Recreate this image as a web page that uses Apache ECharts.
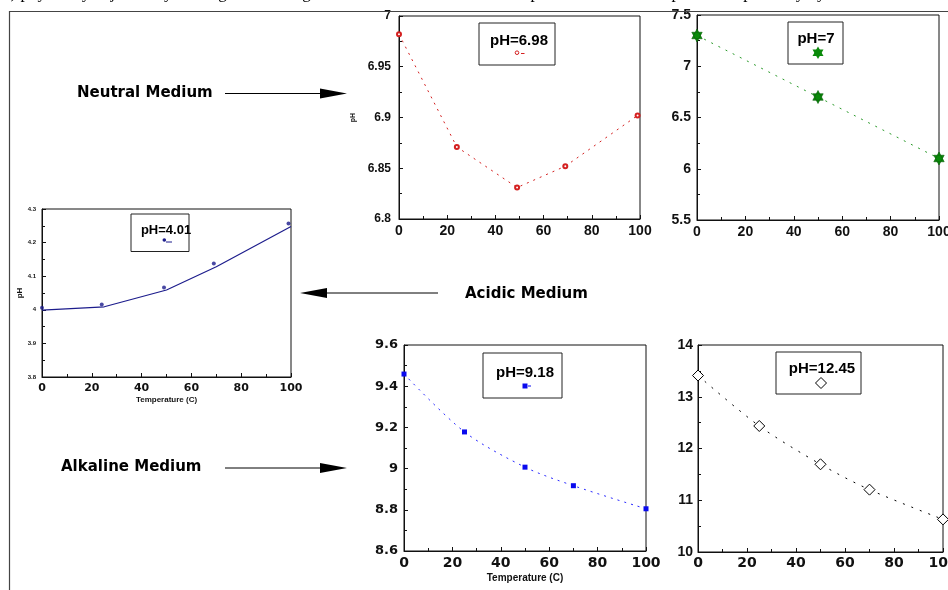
<!DOCTYPE html>
<html>
<head>
<meta charset="utf-8">
<script src="https://cdn.jsdelivr.net/npm/echarts@6/dist/echarts.min.js"></script>
<style>
  html, body { margin: 0; padding: 0; background: #fff; }
  #chart { width: 948px; height: 590px; }
</style>
</head>
<body>
<div id="chart"></div>
<script>
let d = document;

// neutral medium, buffer pH 6.98
let tempNeutral = [0, 24, 49, 69, 99];
let phNeutral = [6.982, 6.871, 6.831, 6.852, 6.902];

// neutral medium, pH 7
let temp7 = [0, 50, 100];
let ph7 = [7.3, 6.7, 6.1];

// acidic medium, pH 4.01 (points + fitted line)
let tempAcid = [0, 24, 49, 69, 99];
let phAcid = [4.006, 4.016, 4.066, 4.138, 4.257];
let tempAcidFit = [0, 25, 50, 70, 100];
let phAcidFit = [3.999, 4.009, 4.059, 4.128, 4.248];

// alkaline medium
let tempAlk = [0, 25, 50, 70, 100];
let ph918 = [9.459, 9.178, 9.007, 8.917, 8.805];
let ph1245 = [13.41, 12.435, 11.695, 11.205, 10.63];

// axis ranges [min, max, interval]
let tempRange = [0, 100, 20];
let yNeutral = [6.8, 7, 0.05];
let y7 = [5.5, 7.5, 0.5];
let yAcid = [3.8, 4.3, 0.1];
let y918 = [8.6, 9.6, 0.2];
let y1245 = [10, 14, 1];

let ARIAL = '"Liberation Sans", Arial, sans-serif';
let DEJAVU = '"DejaVu Sans", sans-serif';
let STAR = 'path://M0,-10L8.66,5L-8.66,5ZM0,10L-8.66,-5L8.66,-5Z';

let zip = (xs, ys) => xs.map((x, i) => [x, ys[i]]);

function grid(left, top, width, height) {
  return {
    left: left, top: top, width: width, height: height,
    show: true, borderColor: '#111', borderWidth: 1,
    containLabel: false, outerBoundsMode: 'none'
  };
}

function axis(gi, range, font, size, margin, extra) {
  let a = {
    gridIndex: gi, type: 'value',
    min: range[0], max: range[1], interval: range[2],
    axisLine: { onZero: false, lineStyle: { color: '#111', width: 1 } },
    axisTick: { inside: true, length: 4, lineStyle: { color: '#111' } },
    minorTick: { show: true, splitNumber: 2, length: 3, lineStyle: { color: '#111' } },
    splitLine: { show: false },
    axisLabel: {
      fontFamily: font, fontWeight: 'bold', fontSize: size, color: '#111',
      margin: margin, showMinLabel: true, showMaxLabel: true, hideOverlap: false
    }
  };
  return Object.assign(a, extra || {});
}

function nameOpt(text, size, gap) {
  return {
    name: text, nameLocation: 'middle', nameGap: gap,
    nameTextStyle: { fontFamily: ARIAL, fontWeight: 'bold', fontSize: size, color: '#111' }
  };
}

let chart = echarts.init(d.getElementById('chart'), null, { renderer: 'canvas' });

// little legend boxes drawn as graphics
function box(x, y, w, h) {
  return { type: 'rect', shape: { x: x, y: y, width: w, height: h },
    style: { fill: '#fff', stroke: '#222', lineWidth: 1 }, z: 10 };
}
function label(text, x, y, size, font, align) {
  return { type: 'text', x: x, y: y, z: 11,
    style: { text: text, fill: '#000', font: 'bold ' + size + 'px ' + font,
      align: align || 'center', verticalAlign: 'middle' } };
}
function seg(x1, y1, x2, y2, color, w) {
  return { type: 'line', z: 11, shape: { x1: x1, y1: y1, x2: x2, y2: y2 },
    style: { stroke: color, lineWidth: w || 1 } };
}
function tri(pts, color) {
  return { type: 'polygon', z: 11, shape: { points: pts }, style: { fill: color } };
}

let graphics = [
  // page frame + clipped sentence above
  { type: 'text', x: 2, y: 2.5, style: { text: '2) physically adjusted by heating and cooling the buffer solutions and the temperature of each sample was kept steady by',
      font: '17px "Liberation Serif", "Times New Roman", serif', fill: '#000', verticalAlign: 'bottom' } },
  seg(9, 11.5, 948, 11.5, '#444', 1.2),
  seg(9.5, 11, 9.5, 590, '#444', 1.2),

  // arrows and medium labels
  label('Neutral Medium', 77, 93.5, 15, DEJAVU, 'left'),
  seg(225, 93.5, 325, 93.5, '#000', 1),
  tri([[320, 88.5], [347, 93.5], [320, 98.5]], '#000'),

  label('Acidic Medium', 465, 294, 15, DEJAVU, 'left'),
  seg(325, 293, 438, 293, '#000', 1),
  tri([[300, 293], [327, 288], [327, 298]], '#000'),

  label('Alkaline Medium', 61, 467, 15, DEJAVU, 'left'),
  seg(225, 468, 325, 468, '#000', 1),
  tri([[320, 463], [347, 468], [320, 473]], '#000'),

  // legend pH=6.98
  box(479, 23, 76, 42),
  label('pH=6.98', 519, 41, 15, ARIAL),
  { type: 'circle', z: 11, shape: { cx: 517, cy: 52.7, r: 1.8 }, style: { fill: 'none', stroke: '#d42020', lineWidth: 1 } },
  seg(521, 53.5, 524.5, 53.5, '#d42020', 1),

  // legend pH=7
  box(788, 22, 55, 42),
  label('pH=7', 816, 39, 15, ARIAL),
  tri([[818, 46.5], [823.5, 56], [812.5, 56]], '#0a8a0a'),
  tri([[818, 59], [812.5, 49.5], [823.5, 49.5]], '#0a8a0a'),

  // legend pH=4.01
  box(131, 214, 58, 37.5),
  label('pH=4.01', 166, 230.5, 13, ARIAL),
  { type: 'circle', z: 11, shape: { cx: 164.3, cy: 240, r: 1.8 }, style: { fill: '#1c1c8c' } },
  seg(166, 242, 172, 242, '#1c1c8c', 1),

  // legend pH=9.18
  box(483, 353, 79, 45),
  label('pH=9.18', 525, 373, 15, ARIAL),
  { type: 'rect', z: 11, shape: { x: 522.5, y: 383.5, width: 5, height: 5 }, style: { fill: '#0a0aee' } },
  seg(528, 386, 531, 386, '#0a0aee', 1),

  // legend pH=12.45
  box(776, 352, 85, 42),
  label('pH=12.45', 822, 369, 15, ARIAL),
  { type: 'polygon', z: 11, shape: { points: [[821, 377.5], [826.5, 383], [821, 388.5], [815.5, 383]] },
    style: { fill: '#fff', stroke: '#000', lineWidth: 1 } }
];

let option = {
  backgroundColor: '#fff',
  animation: false,
  grid: [
    grid(399, 16, 241, 203),
    grid(697, 15, 242, 205),
    grid(42, 209, 249, 168),
    grid(404, 345, 242, 206),
    grid(698, 345, 245, 207)
  ],
  xAxis: [
    axis(0, tempRange, ARIAL, 14, 5),
    axis(1, tempRange, ARIAL, 14, 5),
    axis(2, tempRange, DEJAVU, 11, 6, nameOpt('Temperature (C)', 8, 19)),
    axis(3, tempRange, DEJAVU, 14, 5, nameOpt('Temperature (C)', 10, 22)),
    axis(4, tempRange, DEJAVU, 14, 4)
  ],
  yAxis: [
    axis(0, yNeutral, ARIAL, 12, 8, nameOpt('pH', 7, 42)),
    axis(1, y7, ARIAL, 14, 6),
    axis(2, yAcid, ARIAL, 6, 6, nameOpt('pH', 8, 18)),
    axis(3, y918, DEJAVU, 13, 6),
    axis(4, y1245, ARIAL, 14, 5)
  ],
  series: [
    {
      type: 'line', xAxisIndex: 0, yAxisIndex: 0, clip: false,
      data: zip(tempNeutral, phNeutral),
      symbol: 'emptyCircle', symbolSize: 4,
      itemStyle: { color: '#d42020', borderColor: '#d42020', borderWidth: 1 },
      lineStyle: { color: '#d42020', width: 1, type: [2, 5] }
    },
    {
      type: 'line', xAxisIndex: 1, yAxisIndex: 1, clip: false,
      data: zip(temp7, ph7),
      symbol: STAR, symbolSize: [12, 13], symbolKeepAspect: true,
      itemStyle: { color: '#0a8a0a', borderColor: '#066006', borderWidth: 0.6 },
      lineStyle: { color: '#2a9a2a', width: 1, type: [2, 6] }
    },
    {
      type: 'line', xAxisIndex: 2, yAxisIndex: 2, clip: false,
      data: zip(tempAcidFit, phAcidFit),
      showSymbol: false,
      lineStyle: { color: '#1c1c8c', width: 1.2 }
    },
    {
      type: 'scatter', xAxisIndex: 2, yAxisIndex: 2, clip: false,
      data: zip(tempAcid, phAcid),
      symbol: 'circle', symbolSize: 4,
      itemStyle: { color: '#1c1c8c' }
    },
    {
      type: 'line', xAxisIndex: 3, yAxisIndex: 3, clip: false,
      data: zip(tempAlk, ph918), smooth: 0.3,
      symbol: 'rect', symbolSize: 5,
      itemStyle: { color: '#0a0aee' },
      lineStyle: { color: '#2a2aff', width: 1, type: [2, 5] }
    },
    {
      type: 'line', xAxisIndex: 4, yAxisIndex: 4, clip: false,
      data: zip(tempAlk, ph1245), smooth: 0.3,
      symbol: 'diamond', symbolSize: 11,
      itemStyle: { color: '#fff', borderColor: '#000', borderWidth: 1 },
      lineStyle: { color: '#000', width: 1, type: [2, 7] }
    }
  ],
  graphic: graphics
};

chart.setOption(option);
</script>
</body>
</html>
